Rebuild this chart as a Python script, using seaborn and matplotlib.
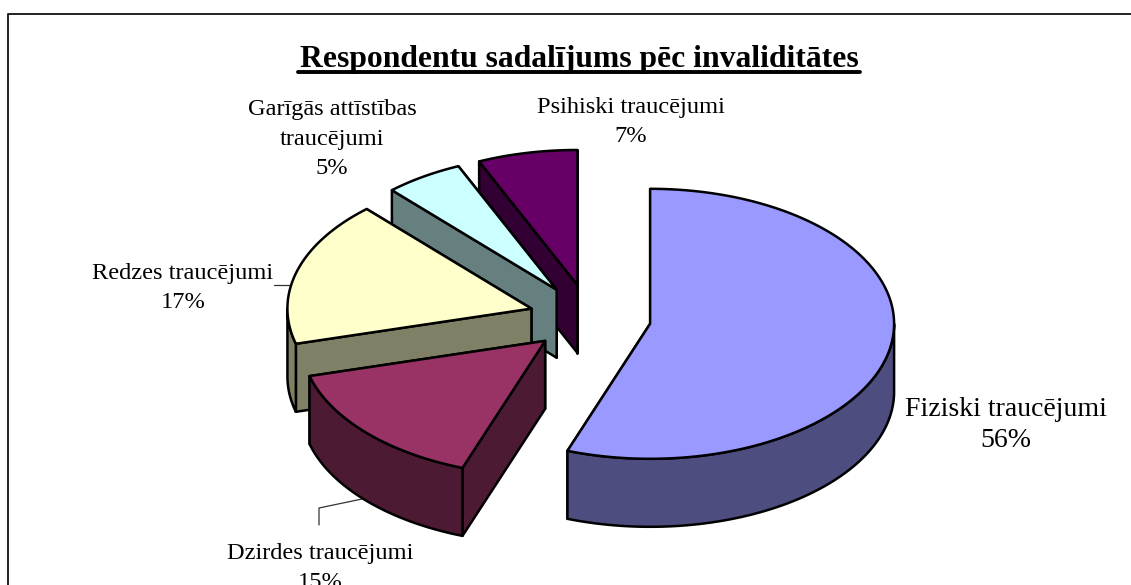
import numpy as np
import seaborn as sns
import matplotlib.pyplot as plt
from matplotlib.patches import Polygon

labels = ['Fiziski traucējumi', 'Dzirdes traucējumi', 'Redzes traucējumi',
          'Garīgās attīstības\ntraucējumi', 'Psihiski traucējumi']
values = [55.5, 15.3, 17.4, 5.2, 6.6]
top_colors = ['#9999FF', '#993366', '#FFFFCC', '#CCFFFF', '#660066']
side_colors = ['#4D4D80', '#4D1A33', '#808066', '#668080', '#330033']
title = 'Respondentu sadalījums pēc invaliditātes'

# layout of the fake 3d pie, in pixels
cx, cy = 590, 318
rx, ry = 244, 135
depth = 68
explode = 0.25
# where each label goes, the fiziski one is drawn a bit wider in the original
label_pos = [(1006, 425), (320, 568), (183, 288), (332, 139), (631, 122)]
label_size = [20, 17.6, 17.6, 17.6, 17.6]
line_gap = [1.35, 1.54, 1.54, 1.54, 1.54]

sns.set_theme(style='white')
plt.rcParams['font.family'] = ['Liberation Serif', 'DejaVu Serif']

fig = plt.figure(figsize=(11.31, 5.85), dpi=100)
ax = fig.add_axes([0, 0, 1, 1])
ax.set_xlim(0, 1131)
ax.set_ylim(585, 0)
ax.axis('off')


def rim(a0, a1, x0, y0):
    t = np.linspace(a0, a1, 120)
    return x0 + rx * np.sin(t), y0 - ry * np.cos(t)


def poly(xs, ys, color, z):
    ax.add_patch(Polygon(np.column_stack([xs, ys]), closed=True, facecolor=color,
                         edgecolor='black', linewidth=1.8, joinstyle='round', zorder=z))


angles = np.radians(np.cumsum([0] + values) * 3.6)
# back slices first, the big one has no overlap with the others
for i in [4, 3, 2, 1, 0]:
    a0, a1 = angles[i], angles[i + 1]
    mid = (a0 + a1) / 2
    x0 = cx + explode * rx * np.sin(mid)
    y0 = cy - explode * ry * np.cos(mid)
    z = (5 - i) * 3
    # cut faces
    for a in (a1, a0):
        ex, ey = x0 + rx * np.sin(a), y0 - ry * np.cos(a)
        poly([x0, ex, ex, x0], [y0, ey, ey + depth, y0 + depth], side_colors[i], z)
    # outer wall, only the front half shows
    lo, hi = max(a0, np.pi / 2), min(a1, 3 * np.pi / 2)
    if hi > lo:
        xs, ys = rim(lo, hi, x0, y0)
        poly(np.r_[xs, xs[::-1]], np.r_[ys, ys[::-1] + depth], side_colors[i], z + 1)
    # top
    xs, ys = rim(a0, a1, x0, y0)
    poly(np.r_[x0, xs], np.r_[y0, ys], top_colors[i], z + 2)

for name, val, (lx, ly), size, gap in zip(labels, values, label_pos, label_size, line_gap):
    ax.text(lx, ly, f'{name}\n{val:.0f}%', ha='center', va='center', fontsize=size,
            color='black', linespacing=gap, zorder=30)

# leader lines
ax.plot([274, 290], [285, 285], color='#333333', lw=0.9, zorder=1)
ax.plot([319, 319, 362], [525, 508, 499], color='#333333', lw=0.9, zorder=1)

# frame and title
ax.plot([7.5, 7.5, 1131], [585, 14, 14], color='#222222', lw=1.4, zorder=1)
ax.text(579, 60, title, ha='center', va='center', fontsize=22.8, fontweight='bold',
        color='black', zorder=30)
ax.plot([298, 860], [72, 72], color='black', lw=2.8, zorder=30)

fig.savefig('out.png', dpi=100)
